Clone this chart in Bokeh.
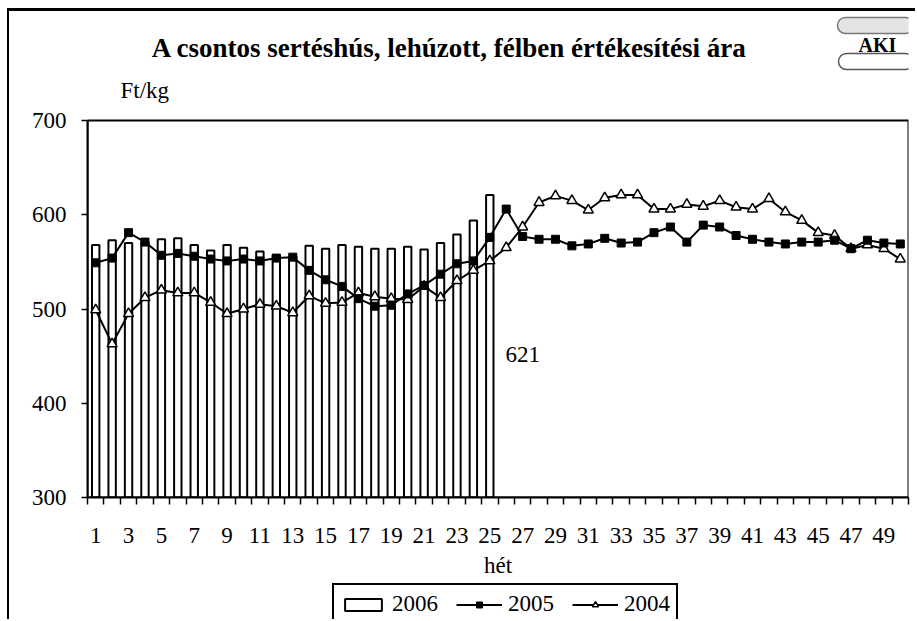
from bokeh.plotting import figure
from bokeh.layouts import column
from bokeh.models import (FixedTicker, Label, Legend, LegendItem, BoxAnnotation, Range1d)
from bokeh.embed import file_html
from bokeh.resources import INLINE

# ---------------- data ----------------
weeks = list(range(1, 51))
weeks_2006 = list(range(1, 26))
price_2006 = [568, 573, 570, 571, 574, 575, 568, 562, 568, 565, 561, 557, 556,
              567, 564, 568, 566, 564, 564, 566, 563, 570, 579, 594, 621]
price_2005 = [549, 554, 581, 571, 557, 559, 556, 553, 551, 553, 551, 554, 555,
              541, 531, 524, 511, 503, 504, 516, 525, 537, 548, 551, 576,
              606, 577, 574, 574, 567, 569, 575, 570, 571, 581, 587, 571,
              589, 587, 578, 574, 571, 569, 571, 571, 573, 564, 573, 570, 569]
price_2004 = [499, 463, 495, 512, 520, 517, 517, 507, 495, 500, 505, 503, 496,
              514, 506, 507, 517, 513, 511, 510, 524, 512, 530, 541, 551,
              565, 587, 613, 620, 615, 605, 618, 621, 621, 606, 606, 611,
              609, 615, 608, 606, 617, 603, 594, 581, 578, 564, 568, 564, 553]
x_tick_weeks = list(range(1, 50, 2))
y_ticks = [300, 400, 500, 600, 700]
series_names = ["2006", "2005", "2004"]
title_text = "A csontos sertéshús, lehúzott, félben értékesítési ára"
y_unit = "Ft/kg"
x_title = "hét"
last_label = "621"

FONT = "Liberation Serif"
TS = "23px"

# layout (pixels)
W, H1, H2 = 906, 572, 36
ML, MR, MT, MB = 78, 7, 2, 86
AXIS_TOP_PX = 109 - MT           # px from frame top down to the 700 line
FRAME_H = H1 - MT - MB
y_min, y_max = y_ticks[0], y_ticks[-1]
y_top = y_max + AXIS_TOP_PX * (y_max - y_min) / (FRAME_H - AXIS_TOP_PX)
x_lo, x_hi = weeks[0] - 0.5, weeks[-1] + 0.5

p = figure(width=W, height=H1, output_backend="svg", toolbar_location=None,
           x_range=Range1d(x_lo, x_hi), y_range=Range1d(y_min, y_top),
           min_border_left=ML, min_border_right=MR, min_border_top=MT,
           min_border_bottom=MB)
p.xgrid.visible = False
p.ygrid.visible = False
p.outline_line_color = None
p.background_fill_color = "white"
p.border_fill_color = "white"

# plot-area border
p.add_layout(BoxAnnotation(left=x_lo, right=x_hi, bottom=y_min, top=y_max,
                           fill_alpha=0, line_color="black", line_width=2, line_alpha=1))

BAR = dict(width=0.45, fill_color="white", line_color="black", line_width=2)
LINE = dict(line_color="black", line_width=2)
SQ = dict(marker="square", size=8, fill_color="black", line_color="black", line_width=1)
TRI = dict(marker="triangle", size=10, fill_color="white", line_color="black", line_width=1.5)

bars = p.vbar(x=weeks_2006, top=price_2006, bottom=y_min, **BAR)
l04 = p.line(weeks, price_2004, **LINE)
m04 = p.scatter(weeks, price_2004, **TRI)
l05 = p.line(weeks, price_2005, **LINE)
m05 = p.scatter(weeks, price_2005, **SQ)

# x axis
xa = p.xaxis[0]
xa.ticker = FixedTicker(ticks=x_tick_weeks,
                        minor_ticks=[w - 0.5 for w in weeks] + [x_hi])
xa.major_tick_in = 0
xa.major_tick_out = 0
xa.minor_tick_in = 0
xa.minor_tick_out = 7
xa.minor_tick_line_color = "black"
xa.minor_tick_line_width = 1.5
xa.axis_line_width = 2
xa.axis_line_color = "black"
xa.major_label_text_font = FONT
xa.major_label_text_font_size = TS
xa.major_label_text_color = "black"
xa.major_label_standoff = 23
xa.axis_label = x_title
xa.axis_label_text_font = FONT
xa.axis_label_text_font_size = TS
xa.axis_label_text_font_style = "normal"
xa.axis_label_text_color = "black"
xa.axis_label_standoff = 7

# y axis
ya = p.yaxis[0]
ya.ticker = FixedTicker(ticks=y_ticks)
ya.bounds = (y_min, y_max)
ya.major_tick_in = 0
ya.major_tick_out = 6
ya.major_tick_line_width = 1.5
ya.minor_tick_line_color = None
ya.axis_line_width = 2
ya.major_label_text_font = FONT
ya.major_label_text_font_size = TS
ya.major_label_text_color = "black"
ya.major_label_standoff = 15

# texts (screen units are relative to the frame's bottom-left corner)
p.add_layout(Label(x=362, y=450, x_units="screen", y_units="screen", text=title_text,
                   text_font=FONT, text_font_size="27px", text_font_style="bold",
                   text_align="center", text_baseline="middle", text_color="black"))
p.add_layout(Label(x=33, y=407, x_units="screen", y_units="screen", text=y_unit,
                   text_font=FONT, text_font_size=TS, text_align="left",
                   text_baseline="middle", text_color="black"))
p.add_layout(Label(x=25.95, y=452, text=last_label, text_font=FONT, text_font_size=TS,
                   text_align="left", text_baseline="middle", text_color="black"))

# logo (approximation)
p.add_layout(BoxAnnotation(left=750, right=826, top=480, bottom=464,
                           left_units="screen", right_units="screen",
                           top_units="screen", bottom_units="screen",
                           fill_color="#e4e4e4", fill_alpha=1, line_color="#777777",
                           line_width=1.5, line_alpha=1, border_radius=8))
p.add_layout(BoxAnnotation(left=751, right=826, top=444, bottom=428,
                           left_units="screen", right_units="screen",
                           top_units="screen", bottom_units="screen",
                           fill_color="white", fill_alpha=1, line_color="#555555",
                           line_width=1.5, line_alpha=1, border_radius=8))
p.add_layout(Label(x=790, y=453, x_units="screen", y_units="screen", text="AKI",
                   text_font=FONT, text_font_size="20px", text_font_style="bold",
                   text_align="center", text_baseline="middle", text_color="black"))

# ---------------- legend strip ----------------
# same series, drawn against ranges that keep them out of view (behind the legend box)
leg = figure(width=W, height=H2, output_backend="svg", toolbar_location=None,
             x_range=Range1d(-40, 80), y_range=Range1d(10000, 10001),
             x_axis_location=None, y_axis_location=None, min_border=0)
leg.xgrid.visible = False
leg.ygrid.visible = False
leg.outline_line_color = None
leg.background_fill_color = "white"
leg.border_fill_color = "white"
k06 = leg.vbar(x=weeks_2006, top=price_2006, bottom=y_min, **BAR)
k05l = leg.line(weeks, price_2005, **LINE)
k05m = leg.scatter(weeks, price_2005, **SQ)
k04l = leg.line(weeks, price_2004, **LINE)
k04m = leg.scatter(weeks, price_2004, **TRI)

legend = Legend(items=[LegendItem(label=series_names[0], renderers=[k06]),
                       LegendItem(label=series_names[1], renderers=[k05l, k05m]),
                       LegendItem(label=series_names[2], renderers=[k04l, k04m])],
                orientation="horizontal", location=(245, -6))
legend.border_line_color = "black"
legend.border_line_width = 2
legend.border_line_alpha = 1
legend.background_fill_color = "white"
legend.background_fill_alpha = 1
legend.label_text_font = FONT
legend.label_text_font_size = TS
legend.label_text_color = "black"
legend.glyph_width = 46
legend.glyph_height = 15
legend.label_standoff = 6
legend.spacing = 18
legend.padding = 6
legend.margin = 0
leg.add_layout(legend)

root = column(p, leg, spacing=0)
root.styles = {"transform": "translate(7px, 8px)",
               "border-top": "3px solid black", "border-left": "2px solid black"}

open("out.html", "w").write(file_html(root, INLINE))
